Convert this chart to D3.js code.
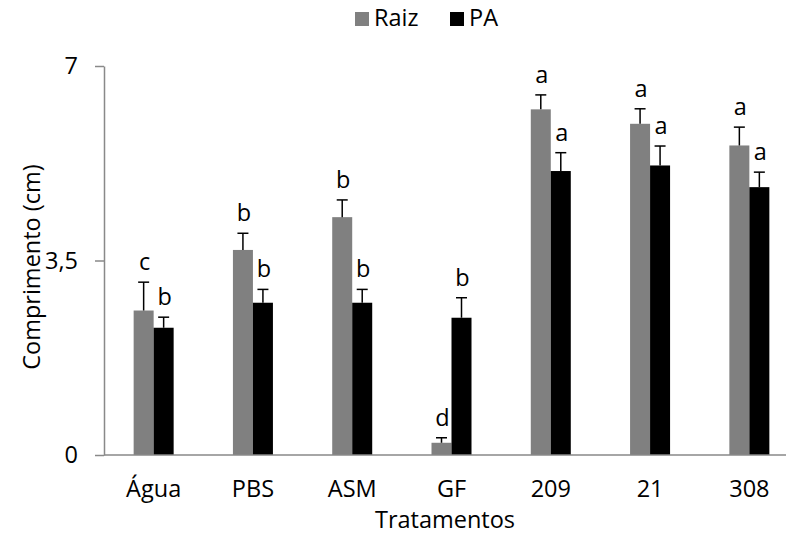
<!DOCTYPE html>
<html>
  <head>
    <meta http-equiv="Content-Type" content="text/html;charset=utf-8"/>
    <title>Comprimento</title>
    <script src="https://cdn.jsdelivr.net/npm/d3@7"></script>
    <style>
      body { margin: 0; background: #fff; }
      text { font-family: "Open Sans", sans-serif; fill: #000; }
    </style>
  </head>
  <body>
    <svg id="target"></svg>
  </body>
  <script>
    var categories = [ "Água", "PBS", "ASM", "GF", "209", "21", "308" ];
    var raiz = [ 2.60, 3.69, 4.28, 0.22, 6.22, 5.96, 5.57 ];
    var raizErr = [ 0.51, 0.30, 0.31, 0.09, 0.26, 0.27, 0.33 ];
    var raizLetters = [ "c", "b", "b", "d", "a", "a", "a" ];
    var pa = [ 2.29, 2.74, 2.74, 2.47, 5.11, 5.21, 4.82 ];
    var paErr = [ 0.19, 0.24, 0.24, 0.36, 0.33, 0.35, 0.27 ];
    var paLetters = [ "b", "b", "b", "b", "a", "a", "a" ];
    var yTicks = [ 0, 3.5, 7 ];

    var width = 786;
    var height = 539;
    var fontSize = 23.5;
    var axisColor = "#898989";
    var svg = d3.select( "#target" ).attr( "width", width ).attr( "height", height );

    var series = [
      { key: "Raiz", color: "#808080", values: raiz, err: raizErr, letters: raizLetters },
      { key: "PA", color: "#000000", values: pa, err: paErr, letters: paLetters }
    ];

    var xScale = d3.scaleBand().domain( categories ).range( [ 104, 799 ] );
    var xSub = d3.scaleBand().domain( series.map( s => s.key ) ).range( [ 0, 40 ] );
    var yScale = d3.scaleLinear().domain( [ 0, 7 ] ).range( [ 455, 66 ] );

    // bars, error bars and letters
    series.forEach( function( s ) {
      var rows = categories.map( ( c, i ) => ( { cat: c, v: s.values[i], e: s.err[i], l: s.letters[i] } ) );
      var left = d => xScale( d.cat ) + xScale.bandwidth() / 2 - 20 + xSub( s.key );
      var mid = d => left( d ) + xSub.bandwidth() / 2;
      var g = svg.append( "g" );

      g.selectAll( "rect" ).data( rows )
        .enter().append( "rect" )
          .attr( "x", left )
          .attr( "y", d => yScale( d.v ) )
          .attr( "width", xSub.bandwidth() )
          .attr( "height", d => yScale( 0 ) - yScale( d.v ) )
          .attr( "fill", s.color );

      g.selectAll( "line.err" ).data( rows )
        .enter().append( "line" )
          .attr( "class", "err" )
          .attr( "x1", mid ).attr( "x2", mid )
          .attr( "y1", d => yScale( d.v ) )
          .attr( "y2", d => yScale( d.v + d.e ) )
          .attr( "stroke", "#000" ).attr( "stroke-width", 1.5 );

      g.selectAll( "line.cap" ).data( rows )
        .enter().append( "line" )
          .attr( "class", "cap" )
          .attr( "x1", d => mid( d ) - 5.5 ).attr( "x2", d => mid( d ) + 5.5 )
          .attr( "y1", d => yScale( d.v + d.e ) )
          .attr( "y2", d => yScale( d.v + d.e ) )
          .attr( "stroke", "#000" ).attr( "stroke-width", 1.5 );

      g.selectAll( "text" ).data( rows )
        .enter().append( "text" )
          .attr( "x", d => mid( d ) + 1 )
          .attr( "y", d => yScale( d.v + d.e ) - 12 )
          .attr( "text-anchor", "middle" )
          .attr( "font-size", fontSize )
          .text( d => d.l );
    } );

    // axes
    var axisX = d3.axisBottom( xScale ).tickSize( 0 ).tickPadding( 25 );
    var gx = svg.append( "g" )
      .attr( "transform", "translate(0," + yScale( 0 ) + ")" )
      .call( axisX );
    gx.select( ".domain" ).attr( "d", "M104,0H786" );

    var axisY = d3.axisLeft( yScale ).tickValues( yTicks ).tickSize( 9 ).tickSizeOuter( 0 ).tickPadding( 17 )
      .tickFormat( d => String( d ).replace( ".", "," ) );
    var gy = svg.append( "g" )
      .attr( "transform", "translate(104,0)" )
      .call( axisY );

    svg.selectAll( ".domain, .tick line" ).attr( "stroke", axisColor ).attr( "stroke-width", 1.5 );
    svg.selectAll( ".tick text" ).attr( "font-size", fontSize ).attr( "font-family", "Open Sans, sans-serif" ).attr( "fill", "#000" );

    // titles
    svg.append( "text" )
      .attr( "x", 445 ).attr( "y", 528 )
      .attr( "text-anchor", "middle" )
      .attr( "font-size", fontSize )
      .text( "Tratamentos" );

    svg.append( "text" )
      .attr( "transform", "translate(40,267) rotate(-90)" )
      .attr( "text-anchor", "middle" )
      .attr( "font-size", fontSize )
      .text( "Comprimento (cm)" );

    // legend
    var legendX = [ 355, 450 ];
    var legend = svg.selectAll( "g.legend" ).data( series )
      .enter().append( "g" )
        .attr( "class", "legend" )
        .attr( "transform", ( d, i ) => "translate(" + legendX[i] + ",12)" );
    legend.append( "rect" ).attr( "width", 14 ).attr( "height", 14 ).attr( "fill", d => d.color );
    legend.append( "text" ).attr( "x", 19 ).attr( "y", 14 ).attr( "font-size", fontSize ).text( d => d.key );
  </script>
</html>
